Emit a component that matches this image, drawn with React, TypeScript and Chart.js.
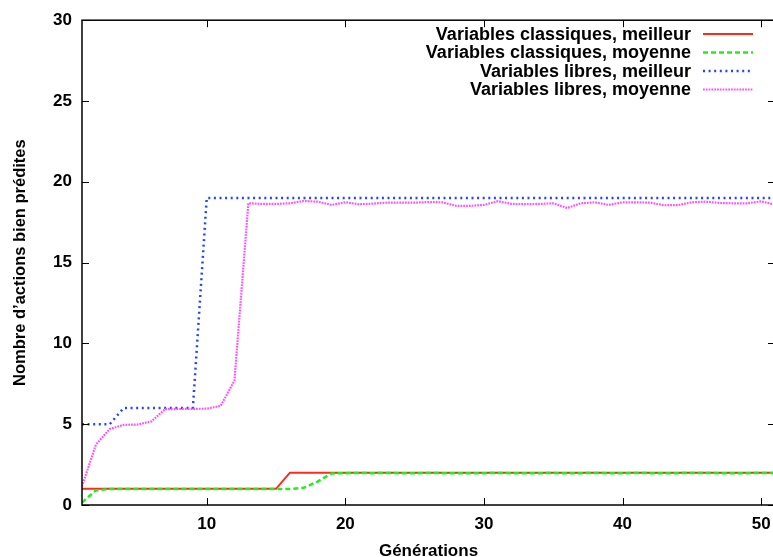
import React, { useEffect, useRef } from "react";
import { Chart, registerables } from "chart.js";

Chart.register(...registerables);

const generations = [
  1, 2, 3, 4, 5, 6, 7, 8, 9, 10, 11, 12, 13, 14, 15, 16, 17, 18, 19, 20, 21, 22, 23, 24, 25, 26,
  27, 28, 29, 30, 31, 32, 33, 34, 35, 36, 37, 38, 39, 40, 41, 42, 43, 44, 45, 46, 47, 48, 49, 50, 51,
];

const classiquesMeilleur = [
  1, 1, 1, 1, 1, 1, 1, 1, 1, 1, 1, 1, 1, 1, 1, 2, 2, 2, 2, 2, 2, 2, 2, 2, 2, 2, 2, 2, 2, 2, 2, 2, 2,
  2, 2, 2, 2, 2, 2, 2, 2, 2, 2, 2, 2, 2, 2, 2, 2, 2, 2,
];

const classiquesMoyenne = [
  0.15, 0.9, 0.99, 0.99, 0.99, 0.99, 0.99, 0.99, 0.99, 0.99, 0.99, 0.99, 0.99, 0.99, 0.99, 0.99,
  1.06, 1.45, 1.95, 1.97, 1.98, 1.97, 1.98, 1.97, 1.97, 1.98, 1.97, 1.96, 1.97, 1.97, 1.98, 1.97,
  1.97, 1.97, 1.98, 1.96, 1.97, 1.98, 1.97, 1.97, 1.98, 1.97, 1.96, 1.97, 1.98, 1.98, 1.97, 1.97,
  1.97, 1.98, 1.97,
];

const libresMeilleur = [
  5, 5, 5, 6, 6, 6, 6, 6, 6, 19, 19, 19, 19, 19, 19, 19, 19, 19, 19, 19, 19, 19, 19, 19, 19, 19,
  19, 19, 19, 19, 19, 19, 19, 19, 19, 19, 19, 19, 19, 19, 19, 19, 19, 19, 19, 19, 19, 19, 19, 19, 19,
];

const libresMoyenne = [
  1.15, 3.73, 4.7, 4.96, 4.98, 5.17, 5.93, 5.94, 5.95, 5.96, 6.13, 7.7, 18.67, 18.63, 18.63, 18.67,
  18.81, 18.77, 18.57, 18.73, 18.61, 18.65, 18.71, 18.71, 18.71, 18.75, 18.73, 18.51, 18.51, 18.57,
  18.8, 18.63, 18.62, 18.63, 18.67, 18.38, 18.67, 18.73, 18.57, 18.73, 18.73, 18.71, 18.55, 18.56,
  18.73, 18.77, 18.69, 18.67, 18.67, 18.79, 18.59,
];

const seriesLabels = [
  "Variables classiques, meilleur",
  "Variables classiques, moyenne",
  "Variables libres, meilleur",
  "Variables libres, moyenne",
];

const xTicks = [10, 20, 30, 40, 50];
const yTicks = [0, 5, 10, 15, 20, 25, 30];

const FONT = "'Liberation Sans', Arial, Helvetica, sans-serif";

const framePlugin = {
  id: "gnuFrame",
  afterDraw(chart: any) {
    const { ctx, chartArea } = chart;
    const xs = chart.scales.x;
    const ys = chart.scales.y;
    const { left, right, top, bottom } = chartArea;
    ctx.save();
    ctx.strokeStyle = "#000";
    ctx.lineWidth = 1.5;
    ctx.setLineDash([]);
    ctx.strokeRect(left, top, right - left, bottom - top);
    ctx.lineWidth = 1;
    const tl = 7;
    ctx.beginPath();
    for (const v of xTicks) {
      const px = Math.round(xs.getPixelForValue(v)) + 0.5;
      ctx.moveTo(px, bottom);
      ctx.lineTo(px, bottom - tl);
      ctx.moveTo(px, top);
      ctx.lineTo(px, top + tl);
    }
    for (const v of yTicks) {
      const py = Math.round(ys.getPixelForValue(v)) + 0.5;
      ctx.moveTo(left, py);
      ctx.lineTo(left + tl, py);
      ctx.moveTo(right, py);
      ctx.lineTo(right - tl, py);
    }
    ctx.stroke();

    // legend (gnuplot style: text right-aligned, sample on the right)
    ctx.font = `bold 18px ${FONT}`;
    ctx.textAlign = "right";
    ctx.textBaseline = "middle";
    const rowY = [35, 53.5, 72, 90.5];
    chart.data.datasets.forEach((ds: any, i: number) => {
      const y = rowY[i];
      ctx.fillStyle = "#000";
      ctx.fillText(ds.label, 691, y);
      ctx.strokeStyle = ds.borderColor;
      ctx.lineWidth = ds.borderWidth;
      ctx.setLineDash(ds.borderDash || []);
      ctx.beginPath();
      ctx.moveTo(703, y - 1);
      ctx.lineTo(753, y - 1);
      ctx.stroke();
    });
    ctx.restore();
  },
};

export default function App() {
  const canvasRef = useRef<HTMLCanvasElement | null>(null);

  useEffect(() => {
    if (!canvasRef.current) return;
    const mk = (arr: number[]) => generations.map((g, i) => ({ x: g, y: arr[i] }));
    const chart = new Chart(canvasRef.current, {
      type: "line",
      data: {
        datasets: [
          {
            label: seriesLabels[0],
            data: mk(classiquesMeilleur),
            borderColor: "#ff2a1a",
            borderWidth: 2,
            borderDash: [],
            order: 4,
          },
          {
            label: seriesLabels[1],
            data: mk(classiquesMoyenne),
            borderColor: "#22ee22",
            borderWidth: 2.5,
            borderDash: [5, 3],
            order: 3,
          },
          {
            label: seriesLabels[2],
            data: mk(libresMeilleur),
            borderColor: "#2244ff",
            borderWidth: 2.5,
            borderDash: [2, 3.6],
            order: 2,
          },
          {
            label: seriesLabels[3],
            data: mk(libresMoyenne),
            borderColor: "#ff55ff",
            borderWidth: 2.2,
            borderDash: [1.8, 1],
            order: 1,
          },
        ] as any,
      },
      options: {
        animation: false,
        responsive: false,
        maintainAspectRatio: false,
        devicePixelRatio: 1,
        elements: {
          point: { radius: 0, hoverRadius: 0 },
          line: { tension: 0, borderCapStyle: "butt", borderJoinStyle: "miter" },
        },
        layout: { padding: { left: 0, right: 5, top: 19, bottom: 0 } },
        plugins: {
          legend: { display: false },
          tooltip: { enabled: false },
        },
        scales: {
          x: {
            type: "linear",
            min: 1,
            max: 51,
            grid: { display: false, drawTicks: false },
            border: { display: false },
            afterBuildTicks: (s: any) => {
              s.ticks = xTicks.map((v) => ({ value: v }));
            },
            afterFit: (s: any) => {
              s.height = 52;
            },
            ticks: {
              padding: 9,
              color: "#000",
              font: { family: FONT, size: 17, weight: "bold" },
              maxRotation: 0,
              autoSkip: false,
            },
            title: {
              display: true,
              text: "Générations",
              color: "#000",
              font: { family: FONT, size: 17, weight: "bold", lineHeight: 1 },
              padding: { top: 0, bottom: -3 },
            },
          },
          y: {
            type: "linear",
            min: 0,
            max: 30,
            grid: { display: false, drawTicks: false },
            border: { display: false },
            afterBuildTicks: (s: any) => {
              s.ticks = yTicks.map((v) => ({ value: v }));
            },
            afterFit: (s: any) => {
              s.width = 82;
            },
            ticks: {
              padding: 10,
              color: "#000",
              font: { family: FONT, size: 17, weight: "bold" },
              autoSkip: false,
            },
            title: {
              display: true,
              text: "Nombre d’actions bien prédites",
              color: "#000",
              font: { family: FONT, size: 16.5, weight: "bold", lineHeight: 1 },
              padding: { top: 12, bottom: 0 },
            },
          },
        },
      } as any,
      plugins: [framePlugin],
    });
    return () => chart.destroy();
  }, []);

  return (
    <div
      style={{
        position: "fixed",
        left: 0,
        top: 0,
        width: 773,
        height: 557,
        overflow: "hidden",
        background: "#fff",
      }}
    >
      <canvas ref={canvasRef} width={780} height={557} style={{ width: 780, height: 557, display: "block" }} />
    </div>
  );
}
